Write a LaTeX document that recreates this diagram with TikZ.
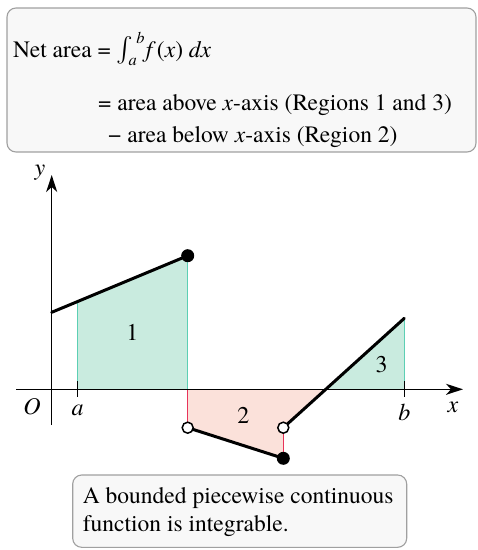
\documentclass[tikz,border=0pt]{standalone}
\usepackage{amsmath}
\usepackage{fontspec}
\setmainfont{texgyretermes}[Extension=.otf, UprightFont=*-regular, ItalicFont=*-italic, BoldFont=*-bold, BoldItalicFont=*-bolditalic]
\usetikzlibrary{arrows.meta,calc}
\definecolor{tealfill}{HTML}{C9EBDF}
\definecolor{tealline}{HTML}{5CCFB4}
\definecolor{pinkfill}{HTML}{FBE1DA}
\definecolor{redline}{HTML}{E8335A}
\definecolor{boxline}{HTML}{A0A0A0}
\definecolor{boxfill}{HTML}{F8F8F8}
\tikzset{
  txt/.style={font=\fontsize{23.5}{28}\selectfont, inner sep=0pt},
  lbl/.style={font=\fontsize{24}{26}\selectfont\itshape, inner sep=0pt},
  num/.style={font=\fontsize{24}{26}\selectfont, inner sep=0pt},
  infobox/.style={draw=boxline, fill=boxfill, line width=1.1pt, rounded corners=9pt},
  axis/.style={line width=1.4pt, -{Stealth[length=17pt,width=11pt,inset=5pt]}},
  fn/.style={line width=3pt, line cap=round},
  filleddot/.style={circle, fill=black, minimum size=13pt, inner sep=0pt},
  opendot/.style={circle, draw=black, fill=white, line width=1.5pt, minimum size=11pt, inner sep=0pt},
}
\begin{document}
\begin{tikzpicture}[x=1pt,y=-1pt]
\useasboundingbox (0,0) rectangle (478,550);
% top box
\draw[infobox] (7,8) rectangle (476,152);
\node[txt, anchor=base west] (l1) at (13,57) {Net area = $\displaystyle\smash{\textstyle\int_{\textit{a}}^{\,\textit{b}}}$\kern1pt\textit{f}\kern1pt(\textit{x}) \textit{dx}};
\node[txt, anchor=base west] (l2) at (98,110) {= area above \textit{x}-axis (Regions 1 and 3)};
\node[txt, anchor=base west] (l3) at (108,142) {\textminus{} area below \textit{x}-axis (Region 2)};
% coordinates
\coordinate (P0) at (51.7,312.3);
\coordinate (Atop) at (77.7,301.5);
\coordinate (Abase) at (77.7,389.3);
\coordinate (P1) at (187.7,255.7);
\coordinate (P1base) at (187.7,389.3);
\coordinate (Q1) at (187.7,427.7);
\coordinate (Q2) at (283.3,458.3);
\coordinate (R1) at (283.3,427.7);
\coordinate (Z) at (325.8,389.3);
\coordinate (P3) at (404.3,318.3);
\coordinate (Bbase) at (404.3,389.3);
% fills
\fill[tealfill] (Abase) -- (Atop) -- (P1) -- (P1base) -- cycle;
\fill[tealfill] (Z) -- (P3) -- (Bbase) -- cycle;
\fill[pinkfill] (P1base) -- (Q1) -- (Q2) -- (R1) -- (Z) -- cycle;
\draw[tealline, line width=1.2pt] (Abase) -- (Atop);
\draw[tealline, line width=1.2pt] (P1base) -- (P1);
\draw[tealline, line width=1.2pt] (Bbase) -- (P3);
\draw[redline, line width=1.5pt] (P1base) -- (Q1);
\draw[redline, line width=1.5pt] (R1) -- (Q2);
% axes
\coordinate (xs) at (16,389.3);
\coordinate (xe) at (463,389.3);
\coordinate (ys) at (51.7,425);
\coordinate (ye) at (51.7,175);
\draw[axis] (xs) -- (xe);
\draw[axis] (ys) -- (ye);
\draw[line width=1.4pt] (77.7,381) -- (77.7,397);
\draw[line width=1.4pt] (404.3,381) -- (404.3,397);
% function
\draw[fn] (P0) -- (P1);
\draw[fn] (Q1) -- (Q2);
\draw[fn] (R1) -- (P3);
\node[filleddot] (d1) at (P1) {};
\node[filleddot] (d2) at (Q2) {};
\node[opendot] (o1) at (Q1) {};
\node[opendot] (o2) at (R1) {};
% labels
\node[lbl] (lO) at (32,407) {O};
\node[lbl] (la) at (77.7,410) {a};
\node[lbl] (lb) at (404.3,412) {b};
\node[lbl] (lx) at (453,407) {x};
\node[lbl] (ly) at (40,173) {y};
\node[num] (n1) at (132.3,332.7) {1};
\node[num] (n2) at (243.3,415) {2};
\node[num] (n3) at (381.7,365) {3};
% bottom box
\draw[infobox] (72.7,475) rectangle (406.7,547.3);
\node[txt, anchor=base west] (b1) at (82.7,503) {A bounded piecewise continuous};
\node[txt, anchor=base west] (b2) at (82.7,531) {function is integrable.};
\end{tikzpicture}
\end{document}
